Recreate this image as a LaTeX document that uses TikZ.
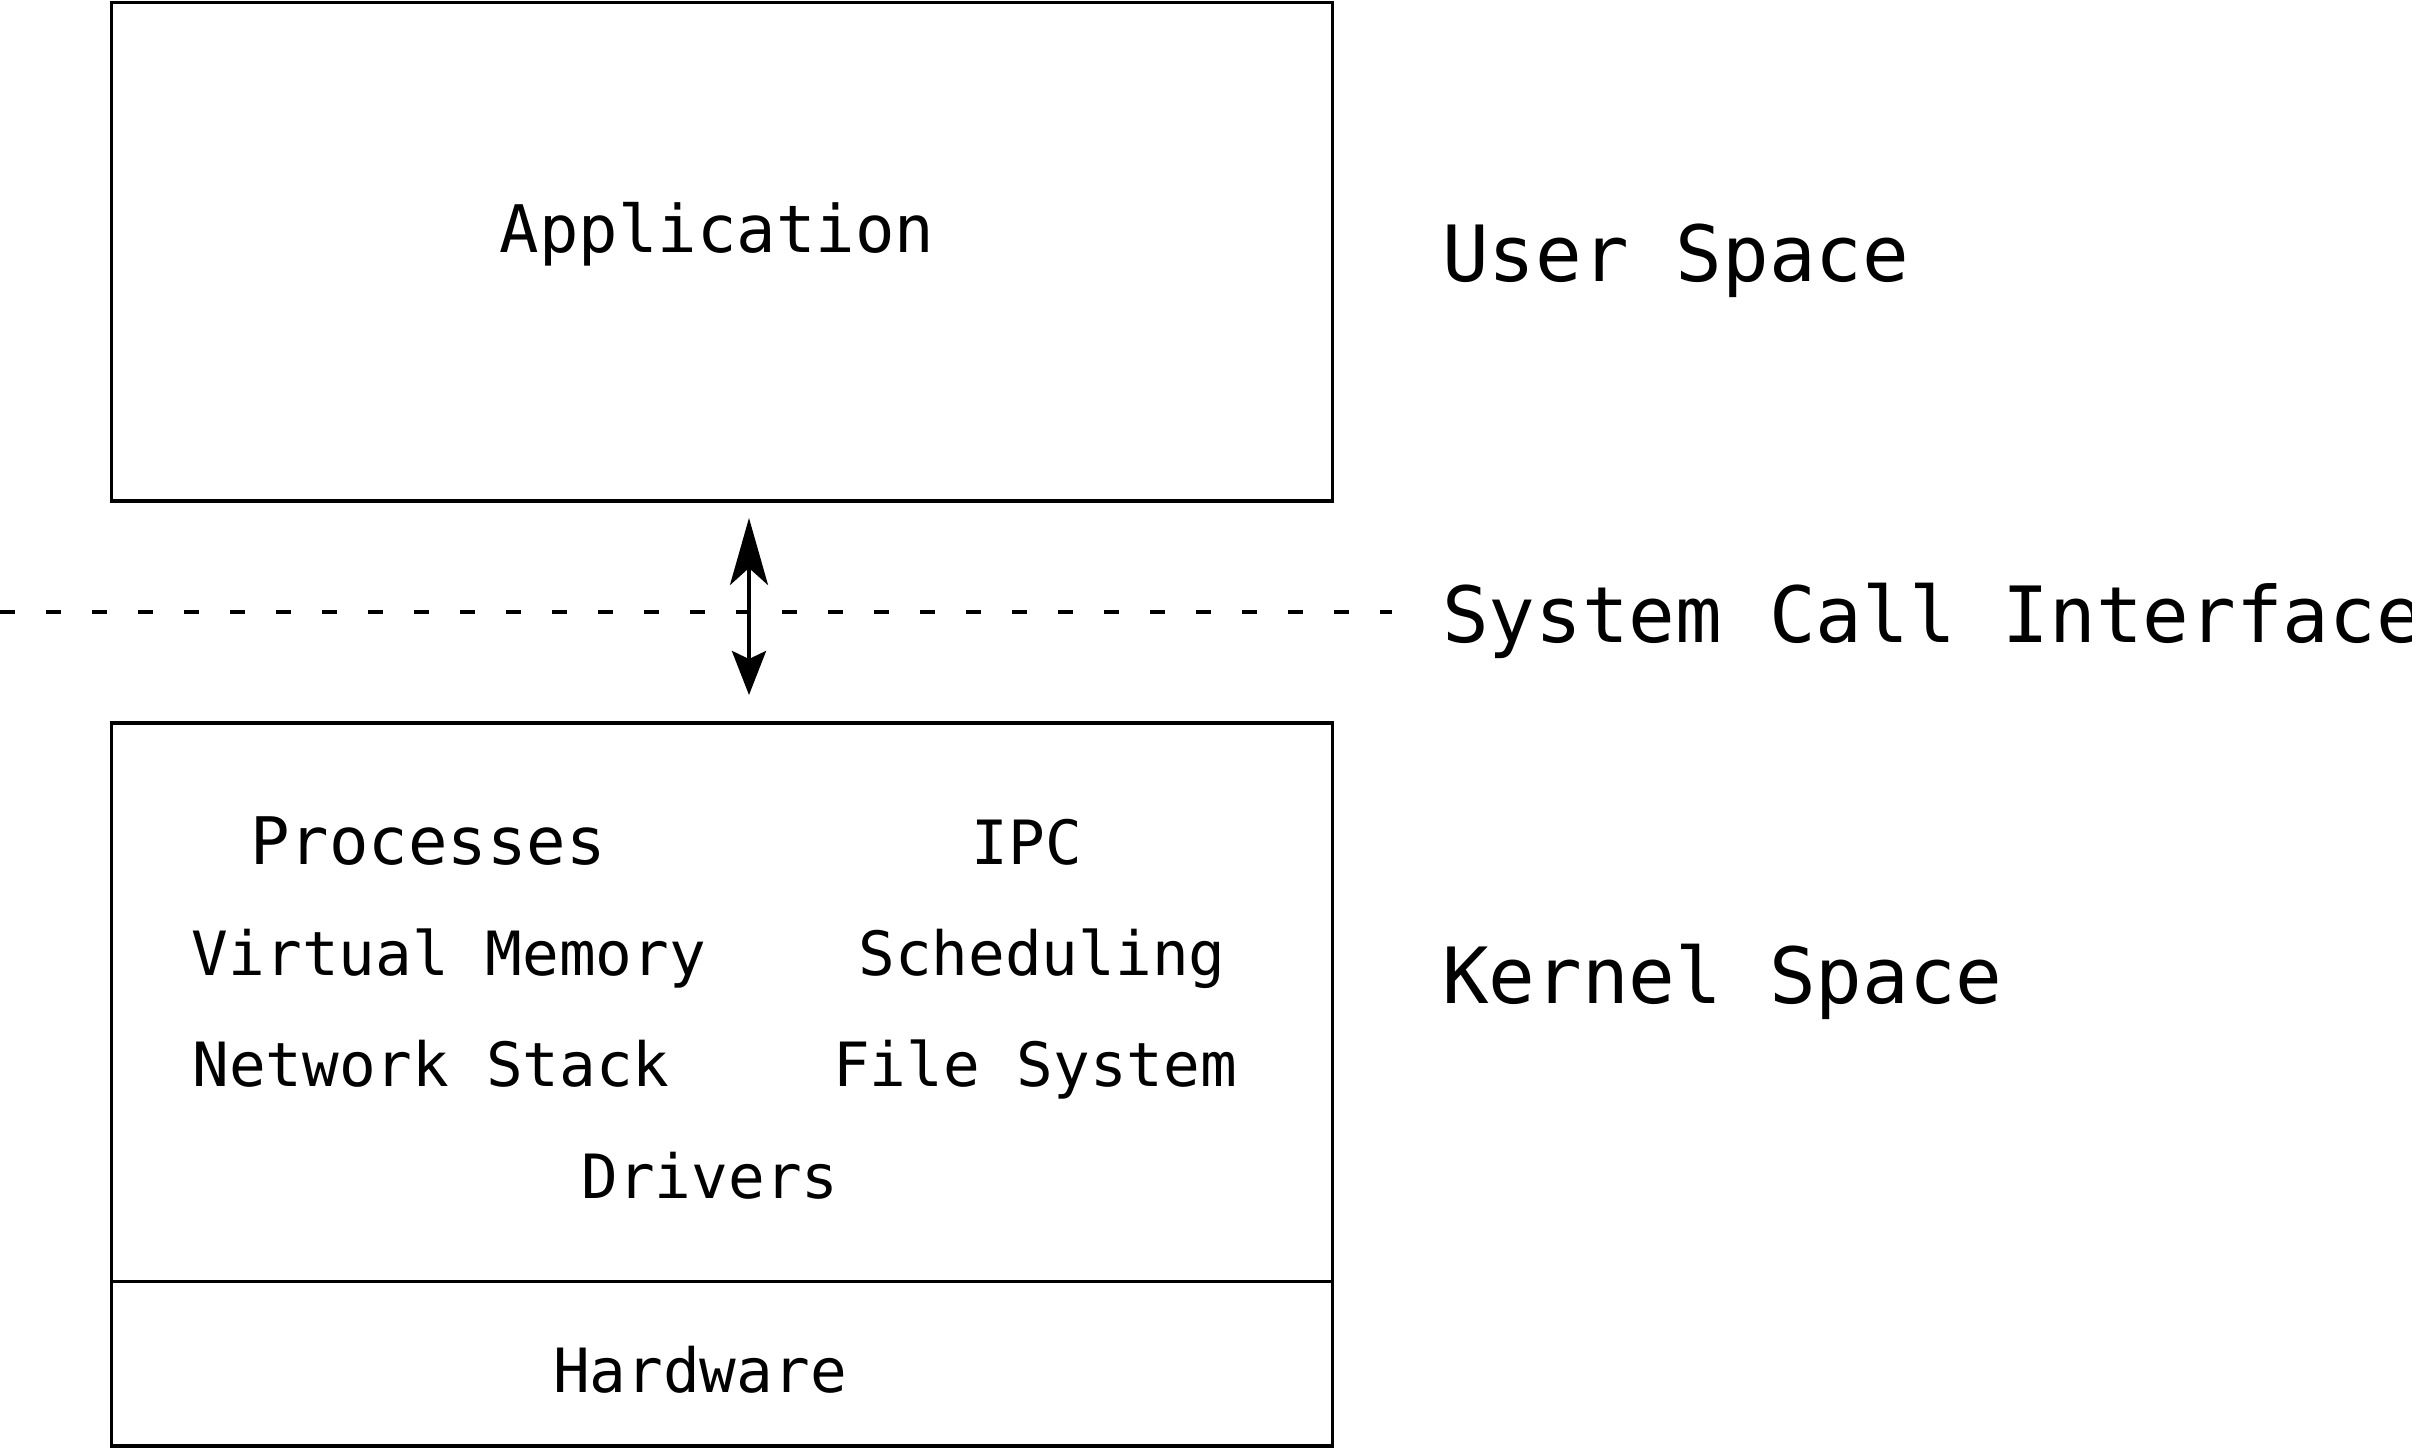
\documentclass[tikz,border=0pt]{standalone}
\usepackage{fontspec}
\setmonofont{DejaVu Sans Mono}
\usetikzlibrary{arrows.meta}
\begin{document}
\begin{tikzpicture}[x=0.25pt,y=-0.25pt,
  box/.style={draw, line width=0.95pt, rectangle, inner sep=0pt, outer sep=0pt},
  lblL/.style={inner sep=0pt, outer sep=0pt, anchor=base west, font=\ttfamily\fontsize{19.4pt}{23pt}\selectfont},
  lblM/.style={inner sep=0pt, outer sep=0pt, anchor=base, font=\ttfamily\fontsize{16.4pt}{20pt}\selectfont},
  lblS/.style={inner sep=0pt, outer sep=0pt, anchor=base, font=\ttfamily\fontsize{15.25pt}{18pt}\selectfont},
  sep/.style={line width=0.95pt, dash pattern=on 3.75pt off 7.75pt},
  arr/.style={line width=1pt, {Stealth[length=11pt,width=8.5pt,inset=2pt]}-{Stealth[length=16.75pt,width=9.5pt,inset=4.25pt]}}
]
\useasboundingbox (0,0) rectangle (2412,1449);
\clip (0,0) rectangle (2412,1449);

% boxes
\node[box, minimum width=305.25pt, minimum height=124.625pt] (app) at (722,251.75) {};
\node[box, minimum width=305.25pt, minimum height=139.625pt] (kernel) at (722,1002.25) {};
\node[box, minimum width=305.25pt, minimum height=41.125pt] (hw) at (722,1363.75) {};

% system call interface line
\coordinate (dl) at (0,612);
\coordinate (dr) at (1392,612);
\draw[sep] (dl) -- (dr);

% arrow
\coordinate (dn) at (749,695);
\coordinate (up) at (749,518);
\draw[arr] (dn) -- (up);

% texts
\node[lblM] (tapp) at (717,252) {Application};
\node[lblL] (tus) at (1442,281) {User Space};
\node[lblL] (tsci) at (1442,642) {System Call Interface};
\node[lblL] (tks) at (1442,1003) {Kernel Space};
\node[lblM] (tproc) at (428,864) {Processes};
\node[lblS] (tipc) at (1027,864) {IPC};
\node[lblS] (tvm) at (449,975) {Virtual Memory};
\node[lblS] (tsch) at (1042,975) {Scheduling};
\node[lblS] (tns) at (431,1086) {Network Stack};
\node[lblS] (tfs) at (1035,1086) {File System};
\node[lblS] (tdrv) at (710,1198) {Drivers};
\node[lblS] (thw) at (700,1392) {Hardware};
\end{tikzpicture}
\end{document}
